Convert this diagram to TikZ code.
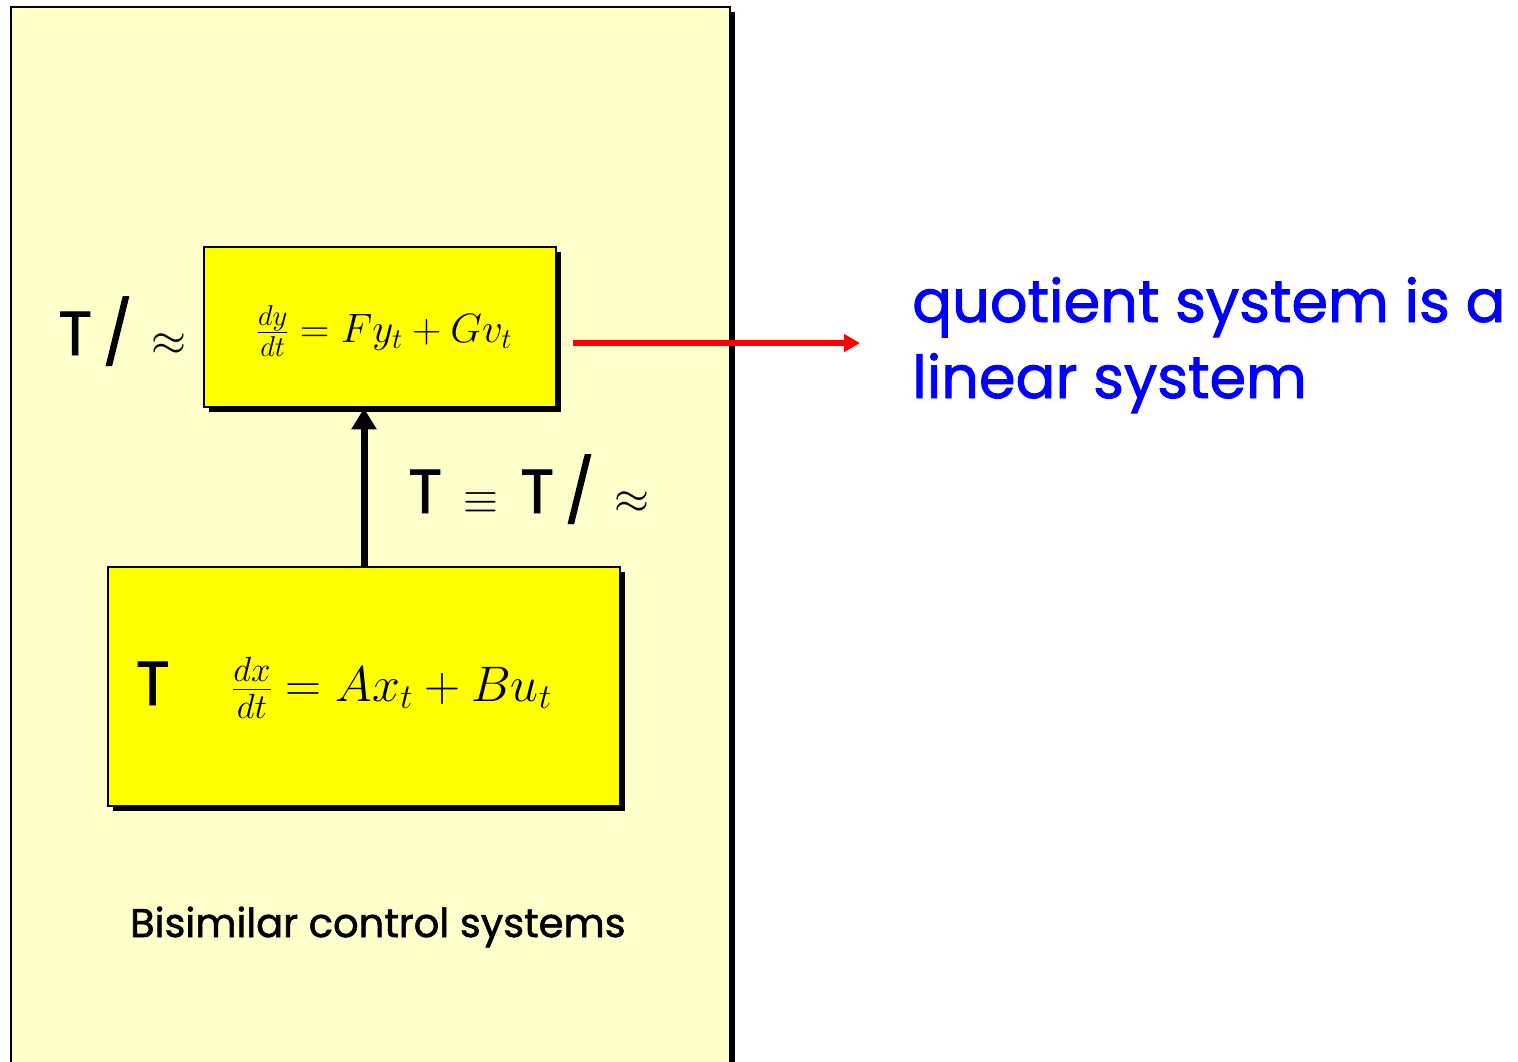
\RequirePackage{fix-cm}
\documentclass[tikz,border=0pt]{standalone}
\usepackage[no-math]{fontspec}
\newfontfamily\comic[FakeBold=1.5]{Poppins}
\usetikzlibrary{arrows.meta,shadows}
\definecolor{panelyellow}{RGB}{255,255,204}
\definecolor{boxyellow}{RGB}{255,255,0}
\definecolor{textblue}{RGB}{0,0,255}
\definecolor{arrowred}{RGB}{255,0,0}
\newcommand{\msym}[1]{{\fontsize{45}{52}\selectfont$#1$}}
\begin{document}
\begin{tikzpicture}[x=1pt,y=-1pt,
  shadowed/.style={drop shadow={shadow xshift=5pt,shadow yshift=-5pt,fill=black,opacity=1}},
  panel/.style={draw=black,line width=2pt,fill=panelyellow,shadowed,inner sep=0pt},
  sysbox/.style={draw=black,line width=2.5pt,fill=boxyellow,shadowed,inner sep=0pt},
  comictext/.style={inner sep=0pt,font=\comic\fontsize{62}{70}\selectfont},
  captiontext/.style={inner sep=0pt,font=\comic\fontsize{40}{48}\selectfont},
  bluetext/.style={inner sep=0pt,text=textblue,font=\comic\fontsize{59}{70}\selectfont},
  eqsmall/.style={inner sep=0pt,font=\fontsize{41}{48}\selectfont},
  eqlarge/.style={inner sep=0pt,font=\fontsize{50}{60}\selectfont},
  uparrow/.style={line width=7pt,-{Triangle[length=21pt,width=24pt]}},
  redarrow/.style={draw=arrowred,line width=6pt,-{Triangle[length=16pt,width=17pt]}}
]
\path[use as bounding box] (0,0) rectangle (1518,1061);
\clip (0,0) rectangle (1518,1061);
\fill[white] (0,0) rectangle (1518,1061);

\node[panel,minimum width=719pt,minimum height=1093pt] (panel) at (370.5,553.5) {};

\node[sysbox,minimum width=352pt,minimum height=160pt] (quot) at (380,327) {};
\node[eqsmall] (quoteq) at (384.5,331) {$\frac{dy}{dt}=Fy_t+Gv_t$};
\node[sysbox,minimum width=512pt,minimum height=239pt] (orig) at (364,686.5) {};

\node[comictext,anchor=base west] (quotlabel) at (55,355)
  {\makebox[40pt]{T}\makebox[45pt]{/}\makebox[57pt]{\msym{\approx}}};
\node[comictext,anchor=base west] (origT) at (133,705) {\makebox[39pt]{T}};
\node[eqlarge,anchor=west] (origeq) at (232,688) {$\frac{dx}{dt}=Ax_t+Bu_t$};

\draw[uparrow] (orig.north) -- (orig.north |- quot.south);
\node[comictext,anchor=base west] (equivlabel) at (405,513)
  {\makebox[40pt]{T}\makebox[72pt]{\msym{\equiv}}\makebox[40pt]{T}\makebox[45pt]{/}\makebox[59pt]{\msym{\approx}}};

\node[captiontext,anchor=base west] (caption) at (130,937) {Bisimilar control systems};

\node[bluetext,anchor=base west] (blue1) at (912,322) {quotient system is a};
\node[bluetext,anchor=base west] (blue2) at (912,398) {linear system};

\coordinate (redtip) at (860,343);
\draw[redarrow] ([shift={(16,16)}]quot.east) -- (redtip);
\end{tikzpicture}
\end{document}
